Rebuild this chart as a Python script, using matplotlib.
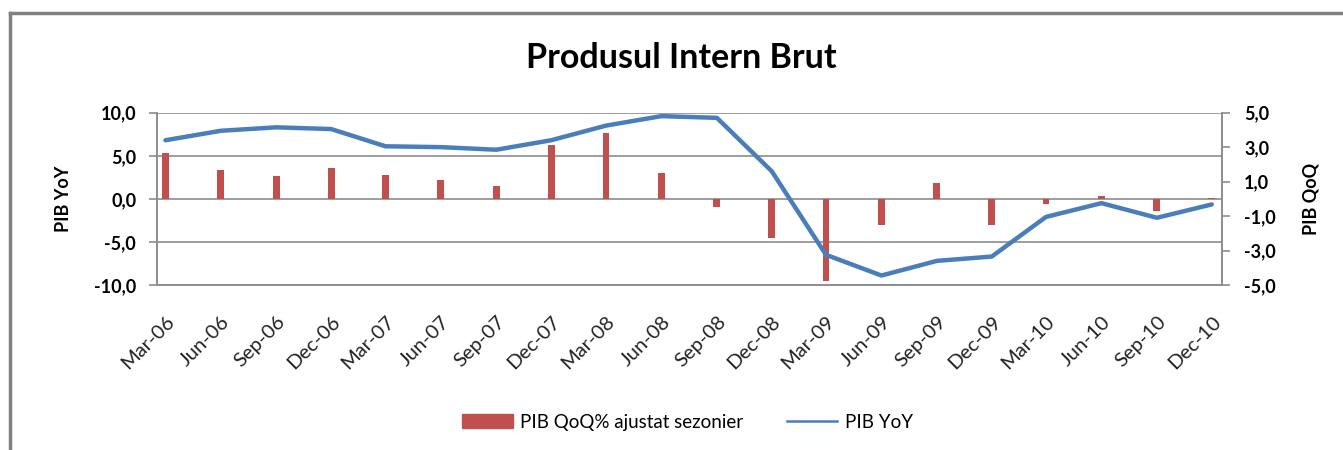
import matplotlib
matplotlib.use("Agg")
import matplotlib.pyplot as plt
import matplotlib.dates as mdates
from matplotlib.lines import Line2D
import pandas as pd

plt.rcParams['font.family'] = ['Lato', 'DejaVu Sans']

quarters = ['Mar-06', 'Jun-06', 'Sep-06', 'Dec-06', 'Mar-07', 'Jun-07', 'Sep-07', 'Dec-07',
            'Mar-08', 'Jun-08', 'Sep-08', 'Dec-08', 'Mar-09', 'Jun-09', 'Sep-09', 'Dec-09',
            'Mar-10', 'Jun-10', 'Sep-10', 'Dec-10']
pib_yoy = [6.8, 7.9, 8.3, 8.1, 6.1, 6.0, 5.7, 6.8, 8.5, 9.6,
           9.4, 3.2, -6.5, -8.9, -7.2, -6.7, -2.1, -0.5, -2.2, -0.65]
pib_qoq = [2.67, 1.65, 1.32, 1.8, 1.41, 1.12, 0.74, 3.1, 3.8, 1.51,
           -0.48, -2.27, -4.79, -1.49, 0.9, -1.49, -0.29, 0.14, -0.72, 0.06]

# date axis: points mid-month, ticks at start of month
dates = pd.to_datetime(['15-' + q for q in quarters], format='%d-%b-%y')
x = mdates.date2num(dates)
month_starts = mdates.date2num(dates - pd.Timedelta(days=14))
x_end = mdates.date2num(pd.Timestamp('2011-01-01'))

red = '#C0504D'
blue = '#4A7EBB'
gray = '#8C8C8C'

fig = plt.figure(figsize=(13.43, 4.5), dpi=100)
ax2 = fig.add_axes([0.1169, 0.3667, 0.7930, 0.3829])
ax = ax2.twinx()
ax.yaxis.tick_left()
ax.yaxis.set_label_position('left')
ax2.yaxis.tick_right()
ax2.yaxis.set_label_position('right')
ax.set_zorder(ax2.get_zorder() + 1)
ax.patch.set_visible(False)

# gridlines (left axis steps)
for g in [-2.5, 0, 2.5, 5]:
    ax2.axhline(g, color=gray, lw=1.2, zorder=0)

bars = ax2.bar(x, pib_qoq, width=11.5, color=red, zorder=2)
line, = ax.plot(x, pib_yoy, color=blue, lw=3.2, solid_capstyle='round')

ax.set_xlim(month_starts[0], x_end)
ax.set_ylim(-10, 10)
ax2.set_ylim(-5, 5)
lticks = [-10, -5, 0, 5, 10]
ax.set_yticks(lticks)
ax.set_yticklabels([('%.1f' % v).replace('.', ',') for v in lticks])
rticks = [-5, -3, -1, 1, 3, 5]
ax2.set_yticks(rticks)
ax2.set_yticklabels([('%.1f' % v).replace('.', ',') for v in rticks])

ax2.set_xticks(month_starts)
ax2.set_xticklabels([])
ax2.set_xticks(x, minor=True)
ax2.set_xticklabels(quarters, minor=True, rotation=45, ha='right', va='top',
                    rotation_mode='anchor', fontsize=14.5, color='#222222')
ax2.tick_params(axis='x', which='major', length=7, color=gray, width=1.2)
ax2.tick_params(axis='x', which='minor', length=0, pad=20)
ax.set_xticks([])

for a in (ax, ax2):
    for s in a.spines.values():
        s.set_color(gray)
        s.set_linewidth(1.2)
    a.spines['top'].set_visible(False)

ax.tick_params(axis='y', length=6, color=gray, width=1.2, labelsize=13, pad=9)
ax2.tick_params(axis='y', length=6, color=gray, width=1.2, labelsize=13, pad=10)
for t in ax.get_yticklabels() + ax2.get_yticklabels():
    t.set_fontweight('bold')

ax.set_ylabel('PIB YoY', fontsize=13, fontweight='bold', labelpad=16)
ax2.set_ylabel('PIB QoQ', fontsize=13, fontweight='bold', labelpad=19, rotation=90)

fig.text(0.5076, 0.871, 'Produsul Intern Brut', ha='center', va='center',
         fontsize=24.5, fontweight='bold')

qoq_handle = plt.Rectangle((0, 0), 1, 1, color=red)
yoy_handle = Line2D([], [], color=blue, lw=1.8)
fig.legend([qoq_handle, yoy_handle], ['PIB QoQ% ajustat sezonier', 'PIB YoY'],
           loc='center', bbox_to_anchor=(0.512, 0.062), ncol=2, frameon=False,
           fontsize=13.5, handlelength=2.7, handleheight=0.7, handletextpad=0.4,
           columnspacing=2.3)

# chart border (top and left edges visible)
fig.add_artist(Line2D([0.0075, 0.0075], [0.0, 0.971], color='#808080', lw=2.5))
fig.add_artist(Line2D([0.0075, 1.0], [0.971, 0.971], color='#808080', lw=2.5))

fig.savefig('out.png', dpi=100)
